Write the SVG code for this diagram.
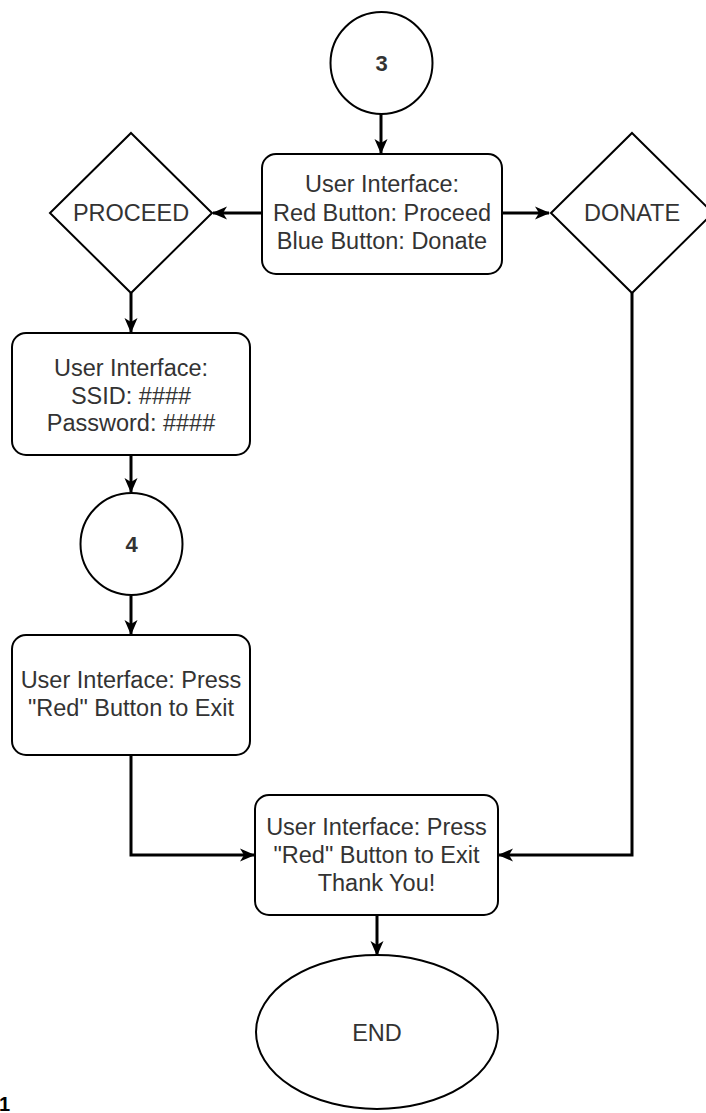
<svg xmlns="http://www.w3.org/2000/svg" width="706" height="1113" viewBox="0 0 706 1113">
<style>
.shape{fill:#ffffff;stroke:#000000;stroke-width:2}
.lbl{font-family:"Liberation Sans",Arial,sans-serif;font-size:23.5px;fill:#333333;text-anchor:middle}
.num{font-size:22px;font-weight:bold}
.edge{fill:none;stroke:#000000;stroke-width:3}
</style>
<defs>
<marker id="arr" markerUnits="userSpaceOnUse" viewBox="0 0 15 15" markerWidth="15" markerHeight="15" refX="14" refY="7.5" orient="auto">
<path d="M0,1 L15,7.5 L0,14 L4,7.5 z" fill="#000000"/>
</marker>
</defs>
<rect width="706" height="1113" fill="#ffffff"/>
<g id="connectors">
<line class="edge" x1="381" y1="114" x2="381" y2="153" marker-end="url(#arr)"/>
<line class="edge" x1="262" y1="213" x2="213" y2="213" marker-end="url(#arr)"/>
<line class="edge" x1="502" y1="213" x2="549" y2="213" marker-end="url(#arr)"/>
<line class="edge" x1="131" y1="293" x2="131" y2="332" marker-end="url(#arr)"/>
<line class="edge" x1="131" y1="455" x2="131" y2="492" marker-end="url(#arr)"/>
<line class="edge" x1="131" y1="596" x2="131" y2="634" marker-end="url(#arr)"/>
<polyline class="edge" points="131,755 131,855 254,855" marker-end="url(#arr)"/>
<polyline class="edge" points="632,293 632,855 499,855" marker-end="url(#arr)"/>
<line class="edge" x1="377" y1="915" x2="377" y2="955" marker-end="url(#arr)"/>
</g>
<g id="node-3">
<circle class="shape" cx="381.5" cy="63" r="51"/>
<text class="lbl num" x="381.5" y="71">3</text>
</g>
<g id="node-ui-main">
<rect class="shape" x="262" y="154" width="240" height="120" rx="14"/>
<text class="lbl" x="382" y="192">User Interface:</text>
<text class="lbl" x="382" y="221">Red Button: Proceed</text>
<text class="lbl" x="382" y="249">Blue Button: Donate</text>
</g>
<g id="node-proceed">
<polygon class="shape" points="131,133 212,213 131,293 50,213"/>
<text class="lbl" x="131" y="221">PROCEED</text>
</g>
<g id="node-donate">
<polygon class="shape" points="632,133 713,213 632,293 551,213"/>
<text class="lbl" x="632" y="221">DONATE</text>
</g>
<g id="node-ssid">
<rect class="shape" x="12" y="333" width="238" height="122" rx="14"/>
<text class="lbl" x="131" y="376">User Interface:</text>
<text class="lbl" x="131" y="404">SSID: ####</text>
<text class="lbl" x="131" y="431">Password: ####</text>
</g>
<g id="node-4">
<circle class="shape" cx="131.5" cy="544" r="51"/>
<text class="lbl num" x="131.5" y="552">4</text>
</g>
<g id="node-exit1">
<rect class="shape" x="12" y="635" width="238" height="120" rx="14"/>
<text class="lbl" x="131" y="688">User Interface: Press</text>
<text class="lbl" x="131" y="716">"Red" Button to Exit</text>
</g>
<g id="node-exit2">
<rect class="shape" x="255" y="795" width="243" height="120" rx="14"/>
<text class="lbl" x="376.5" y="835">User Interface: Press</text>
<text class="lbl" x="376.5" y="863">"Red" Button to Exit</text>
<text class="lbl" x="376.5" y="891">Thank You!</text>
</g>
<g id="node-end">
<ellipse class="shape" cx="377" cy="1032" rx="121" ry="77"/>
<text class="lbl" x="377" y="1041">END</text>
</g>
<text x="-1" y="1111" font-family="Liberation Sans,Arial,sans-serif" font-size="20" font-weight="bold" fill="#000000">1</text>
</svg>
